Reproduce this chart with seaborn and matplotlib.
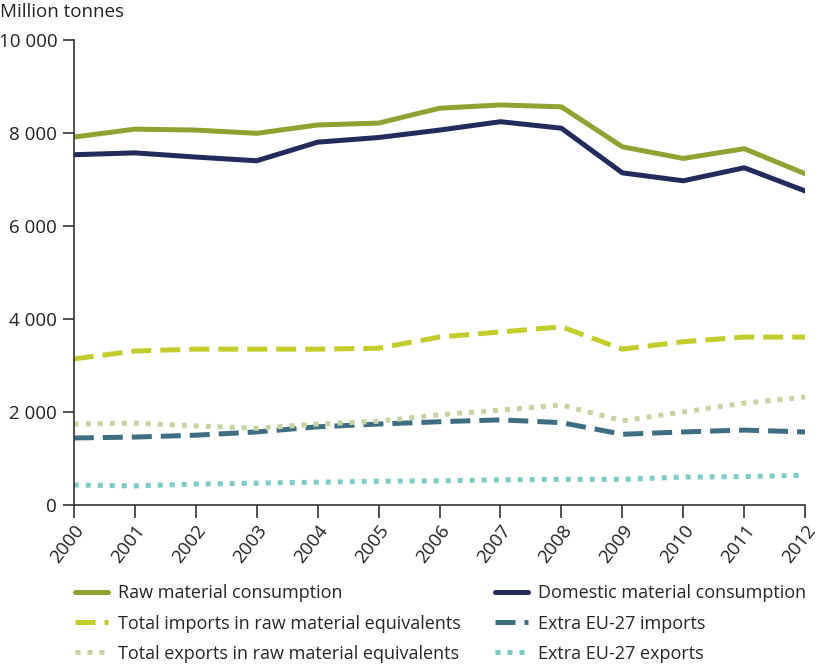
import matplotlib
matplotlib.use("Agg")
import matplotlib.pyplot as plt
import seaborn as sns
import pandas as pd
from matplotlib.ticker import FuncFormatter

years = list(range(2000, 2013))
raw_material = [7910, 8080, 8060, 7990, 8170, 8210, 8530, 8600, 8560, 7700, 7450, 7660, 7120]
domestic_material = [7530, 7570, 7480, 7400, 7800, 7900, 8060, 8240, 8100, 7140, 6970, 7250, 6750]
total_imports = [3140, 3310, 3350, 3350, 3350, 3370, 3610, 3720, 3830, 3350, 3510, 3610, 3610]
extra_imports = [1440, 1460, 1500, 1570, 1680, 1740, 1790, 1830, 1770, 1520, 1570, 1610, 1570]
total_exports = [1740, 1760, 1700, 1650, 1740, 1800, 1940, 2040, 2150, 1810, 2000, 2190, 2320]
extra_exports = [430, 410, 450, 470, 490, 510, 520, 540, 550, 550, 600, 610, 640]

names = ["Raw material consumption", "Domestic material consumption",
         "Total imports in raw material equivalents", "Extra EU-27 imports",
         "Total exports in raw material equivalents", "Extra EU-27 exports"]
series = [raw_material, domestic_material, total_imports, extra_imports, total_exports, extra_exports]
colors = ["#8fa333", "#232a5c", "#c2cc2c", "#3f6e82", "#c6d3a3", "#7fcbc6"]
dash_styles = ["", "", (4, 1.8), (4, 1.8), (1, 1.4), (1, 1.4)]

rows = []
for n, s in zip(names, series):
    for y, v in zip(years, s):
        rows.append({"year": y, "value": v, "series": n})
df = pd.DataFrame(rows)

sns.set_style("white")
plt.rcParams['font.family'] = ['Open Sans', 'DejaVu Sans']
FS = 13.5
LFS = 13

fig = plt.figure(figsize=(8.2, 6.64), dpi=100)
ax = fig.add_axes([0.09, 0.2395, 0.892, 0.7005])

sns.lineplot(data=df, x="year", y="value", hue="series", style="series",
             hue_order=names, style_order=names,
             palette=dict(zip(names, colors)), dashes=dict(zip(names, dash_styles)),
             linewidth=3.6, ax=ax, legend=False)

ax.set_xlim(2000, 2012)
ax.set_ylim(0, 10000)
ax.set_xticks(years)
ax.set_xticklabels([str(y) for y in years], rotation=52, ha="right", rotation_mode="anchor")
ax.set_yticks([0, 2000, 4000, 6000, 8000, 10000])
ax.yaxis.set_major_formatter(FuncFormatter(lambda v, p: f"{int(v):,}".replace(",", " ")))
ax.set_xlabel("")
ax.set_ylabel("")
for sp in ["top", "right"]:
    ax.spines[sp].set_visible(False)
for sp in ["left", "bottom"]:
    ax.spines[sp].set_color("#333333")
    ax.spines[sp].set_linewidth(1.2)
ax.tick_params(axis="both", which="major", width=1.2, color="#333333",
               labelsize=FS, labelcolor="#222222", direction="out", left=True, bottom=True)
ax.tick_params(axis="x", length=9, pad=3)
ax.tick_params(axis="y", length=8, pad=4)

fig.text(0.0, 0.995, "Million tonnes", fontsize=FS, color="#222222", va="top", ha="left")

handles = ax.get_lines()[:6]
order = [0, 2, 4, 1, 3, 5]
fig.legend([handles[i] for i in order], [names[i] for i in order],
           loc="upper left", bbox_to_anchor=(0.0823, 0.131), borderaxespad=0,
           ncol=2, frameon=False,
           fontsize=LFS, handlelength=1.85, columnspacing=1.9, labelspacing=0.68,
           handletextpad=0.55)

fig.savefig("out.png", dpi=100)
